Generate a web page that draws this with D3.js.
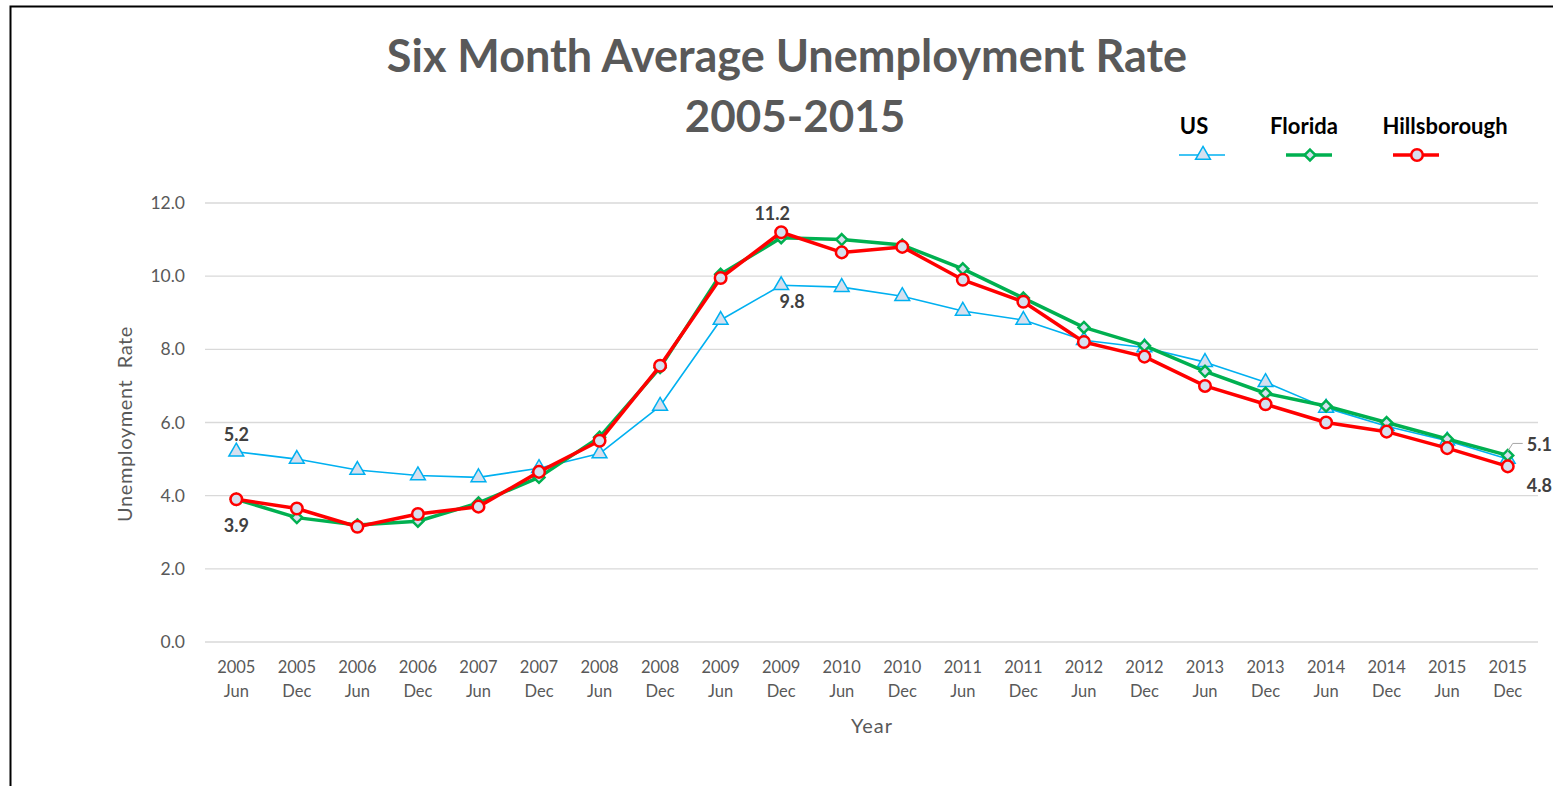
<!DOCTYPE html>
<html lang="en">
<head>
    <meta charset="utf-8">
    <title>Six Month Average Unemployment Rate</title>
    <script type="text/javascript" src="https://cdn.jsdelivr.net/npm/d3@7"></script>
    <style>
        body { margin: 0; background: #fff; }
        svg { display: block; font-family: Lato, "Open Sans", sans-serif; }
    </style>
</head>
<body>
    <div id="chart"></div>
    <script>
        // data
        const years = ["2005","2005","2006","2006","2007","2007","2008","2008","2009","2009","2010",
                       "2010","2011","2011","2012","2012","2013","2013","2014","2014","2015","2015"];
        const months = ["Jun","Dec","Jun","Dec","Jun","Dec","Jun","Dec","Jun","Dec","Jun",
                        "Dec","Jun","Dec","Jun","Dec","Jun","Dec","Jun","Dec","Jun","Dec"];
        const us = [5.2, 5.0, 4.7, 4.55, 4.5, 4.75, 5.15, 6.45, 8.8, 9.75, 9.7,
                    9.45, 9.05, 8.8, 8.25, 8.05, 7.65, 7.1, 6.4, 5.9, 5.5, 5.0];
        const florida = [3.9, 3.4, 3.2, 3.3, 3.8, 4.5, 5.6, 7.5, 10.05, 11.05, 11.0,
                         10.85, 10.2, 9.4, 8.6, 8.1, 7.4, 6.8, 6.45, 6.0, 5.55, 5.1];
        const hills = [3.9, 3.65, 3.15, 3.5, 3.7, 4.65, 5.5, 7.55, 9.95, 11.2, 10.65,
                       10.8, 9.9, 9.3, 8.2, 7.8, 7.0, 6.5, 6.0, 5.75, 5.3, 4.8];
        const yTicks = [0, 2, 4, 6, 8, 10, 12];

        const width = 1553, height = 786;
        const svg = d3.select("#chart").append("svg")
            .attr("width", width).attr("height", height);

        // outer frame (cut off at right and bottom like the screenshot)
        svg.append("rect")
            .attr("x", 10.5).attr("y", 6.5)
            .attr("width", 1600).attr("height", 900)
            .attr("fill", "#fff").attr("stroke", "#000").attr("stroke-width", 2);

        const cats = d3.range(years.length);
        const x = d3.scaleBand().domain(cats).range([206, 1538]);
        const cx = i => x(i) + x.bandwidth() / 2;
        const y = d3.scaleLinear().domain([0, 12]).range([642, 203]);

        // title
        svg.append("text").attr("x", 787).attr("y", 72)
            .attr("text-anchor", "middle").attr("font-size", 45).attr("font-weight", "bold")
            .attr("fill", "#595959").text("Six Month Average Unemployment Rate");
        svg.append("text").attr("x", 795).attr("y", 132)
            .attr("text-anchor", "middle").attr("font-size", 44).attr("font-weight", "bold")
            .attr("fill", "#595959").text("2005-2015");

        // gridlines
        svg.append("g").selectAll("line").data(yTicks).join("line")
            .attr("x1", 205).attr("x2", 1538)
            .attr("y1", d => y(d)).attr("y2", d => y(d))
            .attr("stroke", "#d9d9d9").attr("stroke-width", 1.3);

        // y tick labels
        svg.append("g").selectAll("text").data(yTicks).join("text")
            .attr("x", 185).attr("y", d => y(d) + 6)
            .attr("text-anchor", "end").attr("font-size", 17.5).attr("fill", "#595959")
            .text(d => d.toFixed(1));

        // x tick labels
        const xl = svg.append("g").selectAll("text").data(cats).join("text")
            .attr("text-anchor", "middle").attr("font-size", 16.5).attr("fill", "#595959");
        xl.append("tspan").attr("x", d => cx(d)).attr("y", 673).text(d => years[d]);
        xl.append("tspan").attr("x", d => cx(d)).attr("y", 697).text(d => months[d]);

        // axis titles
        svg.append("text").attr("x", 872).attr("y", 733)
            .attr("text-anchor", "middle").attr("font-size", 20).attr("letter-spacing", 1)
            .attr("fill", "#595959").text("Year");
        svg.append("text")
            .attr("transform", "translate(132,424) rotate(-90)")
            .attr("text-anchor", "middle").attr("font-size", 20).attr("letter-spacing", 0.6)
            .attr("fill", "#595959").attr("xml:space", "preserve")
            .text("Unemployment  Rate");

        const markerFill = "#d6e0ef";
        const diamond = { draw(ctx, size) {
            const r = Math.sqrt(size / 2);
            ctx.moveTo(0, -r); ctx.lineTo(r, 0); ctx.lineTo(0, r); ctx.lineTo(-r, 0); ctx.closePath();
        } };
        const series = [
            { name: "US", values: us, color: "#00b0f0", width: 1.6, shape: d3.symbolTriangle, size: 95 },
            { name: "Florida", values: florida, color: "#00b050", width: 3.5, shape: diamond, size: 60 },
            { name: "Hillsborough", values: hills, color: "#ff0000", width: 3.5, shape: d3.symbolCircle, size: 105 }
        ];

        const line = d3.line().x((d, i) => cx(i)).y(d => y(d));

        series.forEach(s => {
            svg.append("path").datum(s.values)
                .attr("d", line).attr("fill", "none")
                .attr("stroke", s.color).attr("stroke-width", s.width)
                .attr("stroke-linejoin", "round");
            svg.append("g").selectAll("path").data(s.values).join("path")
                .attr("transform", (d, i) => `translate(${cx(i)},${y(d)})`)
                .attr("d", d3.symbol().type(s.shape).size(s.size))
                .attr("fill", markerFill).attr("stroke", s.color)
                .attr("stroke-width", s.name === "US" ? 1.5 : 2.5);
        });

        // data labels
        const last = years.length - 1;
        const peak = 9;
        const labels = [
            { x: cx(0), y: y(us[0]) - 11, t: us[0].toFixed(1), a: "middle" },
            { x: cx(0), y: y(florida[0]) + 33, t: florida[0].toFixed(1), a: "middle" },
            { x: cx(peak) - 9, y: y(hills[peak]) - 12, t: hills[peak].toFixed(1), a: "middle" },
            { x: cx(peak) + 11, y: y(us[peak]) + 23, t: us[peak].toFixed(1), a: "middle" },
            { x: 1552, y: y(florida[last]) - 4, t: florida[last].toFixed(1), a: "end" },
            { x: 1552, y: y(hills[last]) + 26, t: hills[last].toFixed(1), a: "end" }
        ];
        svg.append("g").selectAll("text").data(labels).join("text")
            .attr("x", d => d.x).attr("y", d => d.y)
            .attr("text-anchor", d => d.a).attr("font-size", 18).attr("font-weight", "bold")
            .attr("fill", "#404040").text(d => d.t);

        // leader line for the 5.1 label
        svg.append("path")
            .attr("d", `M${cx(last)},${y(florida[last]) - 4} L${cx(last) + 5},${y(florida[last]) - 12} L${cx(last) + 15},${y(florida[last]) - 12}`)
            .attr("fill", "none").attr("stroke", "#a6a6a6").attr("stroke-width", 1);

        // legend
        const legendX = [1194, 1304, 1445];
        const keyShift = [9, 6, -28];
        const lg = svg.append("g").selectAll("g").data(series).join("g")
            .attr("transform", (d, i) => `translate(${legendX[i]},0)`);
        lg.append("text").attr("y", 134).attr("text-anchor", "middle")
            .attr("font-size", 22).attr("font-weight", "bold").attr("fill", "#000")
            .text(d => d.name);
        lg.append("line").attr("x1", -24).attr("x2", 22).attr("y1", 155).attr("y2", 155)
            .attr("transform", (d, i) => `translate(${keyShift[i]},0)`)
            .attr("stroke", d => d.color).attr("stroke-width", d => d.width);
        lg.append("path")
            .attr("transform", (d, i) => `translate(${keyShift[i]},155)`)
            .attr("d", d => d3.symbol().type(d.shape).size(d.size)())
            .attr("fill", markerFill).attr("stroke", d => d.color)
            .attr("stroke-width", d => d.name === "US" ? 1.5 : 2.5);
    </script>
</body>
</html>
